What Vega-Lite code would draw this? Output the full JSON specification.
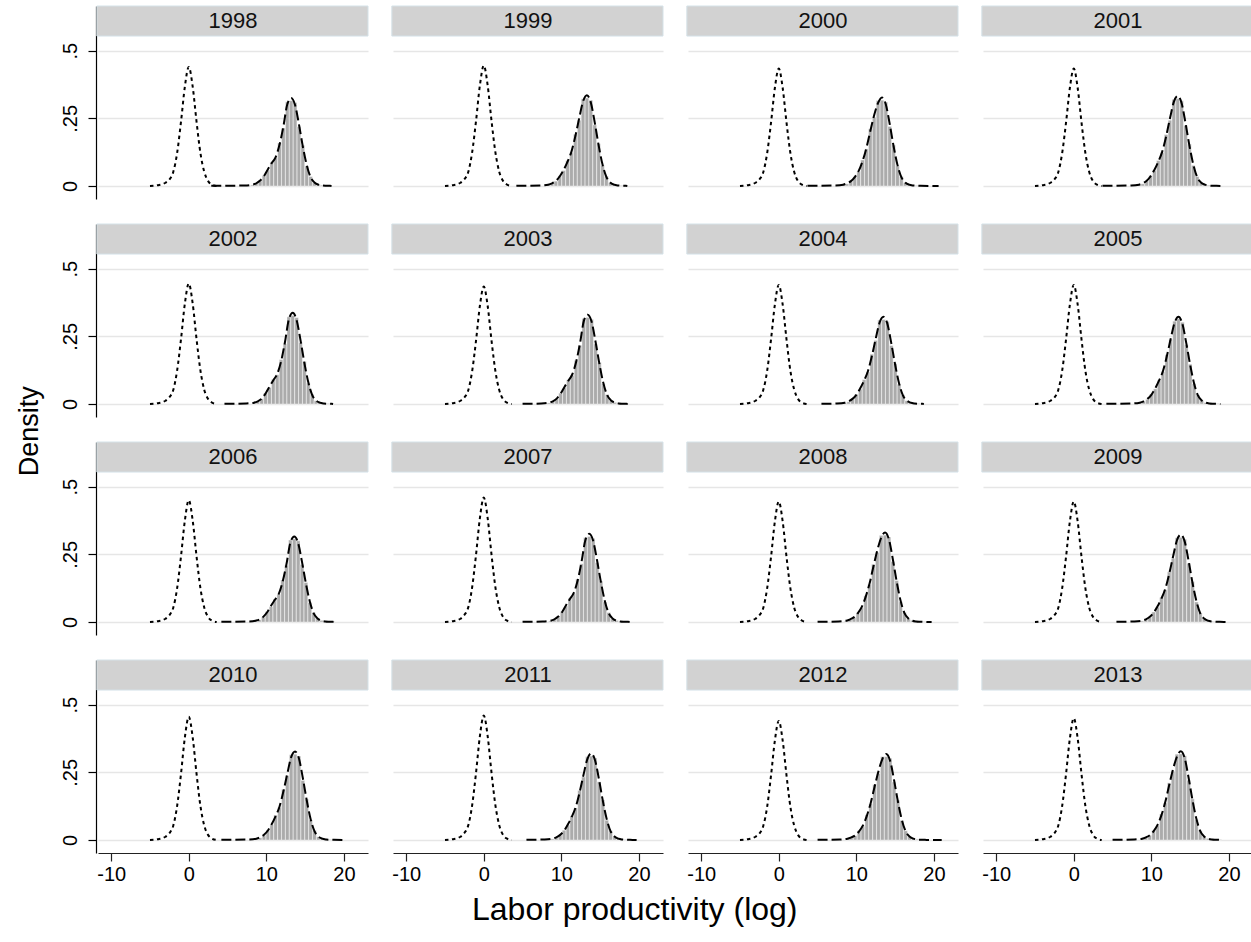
{
"$schema": "https://vega.github.io/schema/vega-lite/v6.json",
"padding": {"left": 16, "top": 4, "right": 0, "bottom": 5},
"background": "white",
"config": {"font": "Liberation Sans", "view": {"stroke": null}, "header": {"labelExpr": "''", "labelFontSize": 1, "labelPadding": 0, "labelLimit": 1, "title": null}},
"title": {"text": "Labor productivity (log)", "orient": "bottom", "anchor": "middle", "fontSize": 32, "fontWeight": "normal", "color": "black", "offset": 11},
"data": {"values": [
{"yr":1998,"x":2.9,"k":0.0005},{"yr":1998,"x":7.2,"k":0.002},{"yr":1998,"x":8.2,"k":0.005,"h":0.004},
{"yr":1998,"x":8.7,"k":0.010,"h":0.008},{"yr":1998,"x":9.2,"k":0.020,"h":0.019},{"yr":1998,"x":9.7,"k":0.037,"h":0.039},{"yr":1998,"x":10.2,"k":0.062,"h":0.059},{"yr":1998,"x":10.7,"k":0.085,"h":0.088},{"yr":1998,"x":11.2,"k":0.107,"h":0.104},{"yr":1998,"x":11.7,"k":0.153,"h":0.159},{"yr":1998,"x":12.2,"k":0.221,"h":0.214},{"yr":1998,"x":12.7,"k":0.302,"h":0.311},{"yr":1998,"x":13.2,"k":0.325,"h":0.315},{"yr":1998,"x":13.7,"k":0.299,"h":0.308},{"yr":1998,"x":14.2,"k":0.228,"h":0.219},{"yr":1998,"x":14.7,"k":0.146,"h":0.150},{"yr":1998,"x":15.2,"k":0.078,"h":0.074},{"yr":1998,"x":15.7,"k":0.033,"h":0.035},{"yr":1998,"x":16.2,"k":0.013,"h":0.012},{"yr":1998,"x":16.7,"k":0.005,"h":0.006},{"yr":1998,"x":17.2,"k":0.002,"h":0.003},{"yr":1998,"x":17.7,"k":0.001,"h":0.002},{"yr":1998,"x":18.2,"k":0.0005,"h":0.002},{"yr":1998,"x":18.4,"k":0},
{"yr":1999,"x":4.2,"k":0.0005},{"yr":1999,"x":7.3,"k":0.002},{"yr":1999,"x":8.3,"k":0.005,"h":0.004},
{"yr":1999,"x":8.8,"k":0.010,"h":0.008},{"yr":1999,"x":9.3,"k":0.019,"h":0.018},{"yr":1999,"x":9.8,"k":0.036,"h":0.038},{"yr":1999,"x":10.3,"k":0.060,"h":0.057},{"yr":1999,"x":10.8,"k":0.090,"h":0.094},{"yr":1999,"x":11.3,"k":0.127,"h":0.123},{"yr":1999,"x":11.8,"k":0.184,"h":0.191},{"yr":1999,"x":12.3,"k":0.251,"h":0.243},{"yr":1999,"x":12.8,"k":0.313,"h":0.322},{"yr":1999,"x":13.3,"k":0.335,"h":0.325},{"yr":1999,"x":13.8,"k":0.308,"h":0.317},{"yr":1999,"x":14.3,"k":0.235,"h":0.226},{"yr":1999,"x":14.8,"k":0.151,"h":0.156},{"yr":1999,"x":15.3,"k":0.080,"h":0.076},{"yr":1999,"x":15.8,"k":0.034,"h":0.036},{"yr":1999,"x":16.3,"k":0.013,"h":0.012},{"yr":1999,"x":16.8,"k":0.005,"h":0.006},{"yr":1999,"x":17.3,"k":0.002,"h":0.003},{"yr":1999,"x":17.8,"k":0.001,"h":0.002},{"yr":1999,"x":18.3,"k":0.0005,"h":0.002},{"yr":1999,"x":18.5,"k":0},
{"yr":2000,"x":3.7,"k":0.0005},{"yr":2000,"x":7.3,"k":0.002},{"yr":2000,"x":8.3,"k":0.005,"h":0.004},
{"yr":2000,"x":8.8,"k":0.010,"h":0.008},{"yr":2000,"x":9.3,"k":0.018,"h":0.017},{"yr":2000,"x":9.8,"k":0.033,"h":0.035},{"yr":2000,"x":10.3,"k":0.056,"h":0.053},{"yr":2000,"x":10.8,"k":0.092,"h":0.096},{"yr":2000,"x":11.3,"k":0.141,"h":0.137},{"yr":2000,"x":11.8,"k":0.203,"h":0.211},{"yr":2000,"x":12.3,"k":0.262,"h":0.254},{"yr":2000,"x":12.8,"k":0.307,"h":0.316},{"yr":2000,"x":13.3,"k":0.327,"h":0.317},{"yr":2000,"x":13.8,"k":0.301,"h":0.310},{"yr":2000,"x":14.3,"k":0.229,"h":0.220},{"yr":2000,"x":14.8,"k":0.147,"h":0.151},{"yr":2000,"x":15.3,"k":0.078,"h":0.074},{"yr":2000,"x":15.8,"k":0.033,"h":0.035},{"yr":2000,"x":16.3,"k":0.013,"h":0.012},{"yr":2000,"x":16.8,"k":0.005,"h":0.006},{"yr":2000,"x":17.3,"k":0.002,"h":0.003},{"yr":2000,"x":17.8,"k":0.001,"h":0.002},{"yr":2000,"x":18.3,"k":0.0005,"h":0.002},{"yr":2000,"x":20.6,"k":0},
{"yr":2001,"x":3.7,"k":0.0005},{"yr":2001,"x":7.4,"k":0.002},{"yr":2001,"x":8.4,"k":0.005,"h":0.004},
{"yr":2001,"x":8.9,"k":0.010,"h":0.008},{"yr":2001,"x":9.4,"k":0.019,"h":0.018},{"yr":2001,"x":9.9,"k":0.036,"h":0.038},{"yr":2001,"x":10.4,"k":0.060,"h":0.057},{"yr":2001,"x":10.9,"k":0.090,"h":0.094},{"yr":2001,"x":11.4,"k":0.127,"h":0.123},{"yr":2001,"x":11.9,"k":0.183,"h":0.190},{"yr":2001,"x":12.4,"k":0.250,"h":0.243},{"yr":2001,"x":12.9,"k":0.311,"h":0.320},{"yr":2001,"x":13.4,"k":0.333,"h":0.323},{"yr":2001,"x":13.9,"k":0.306,"h":0.315},{"yr":2001,"x":14.4,"k":0.233,"h":0.224},{"yr":2001,"x":14.9,"k":0.150,"h":0.155},{"yr":2001,"x":15.4,"k":0.080,"h":0.076},{"yr":2001,"x":15.9,"k":0.033,"h":0.035},{"yr":2001,"x":16.4,"k":0.013,"h":0.012},{"yr":2001,"x":16.9,"k":0.005,"h":0.006},{"yr":2001,"x":17.4,"k":0.002,"h":0.003},{"yr":2001,"x":17.9,"k":0.001,"h":0.002},{"yr":2001,"x":18.4,"k":0.0005,"h":0.002},{"yr":2001,"x":18.9,"k":0},
{"yr":2002,"x":4.6,"k":0.0005},{"yr":2002,"x":7.4,"k":0.002},{"yr":2002,"x":8.4,"k":0.005,"h":0.004},
{"yr":2002,"x":8.9,"k":0.010,"h":0.008},{"yr":2002,"x":9.4,"k":0.020,"h":0.019},{"yr":2002,"x":9.9,"k":0.039,"h":0.041},{"yr":2002,"x":10.4,"k":0.064,"h":0.061},{"yr":2002,"x":10.9,"k":0.088,"h":0.091},{"yr":2002,"x":11.4,"k":0.111,"h":0.108},{"yr":2002,"x":11.9,"k":0.158,"h":0.164},{"yr":2002,"x":12.4,"k":0.229,"h":0.222},{"yr":2002,"x":12.9,"k":0.313,"h":0.322},{"yr":2002,"x":13.4,"k":0.337,"h":0.327},{"yr":2002,"x":13.9,"k":0.310,"h":0.319},{"yr":2002,"x":14.4,"k":0.236,"h":0.227},{"yr":2002,"x":14.9,"k":0.152,"h":0.157},{"yr":2002,"x":15.4,"k":0.081,"h":0.077},{"yr":2002,"x":15.9,"k":0.034,"h":0.036},{"yr":2002,"x":16.4,"k":0.013,"h":0.012},{"yr":2002,"x":16.9,"k":0.005,"h":0.006},{"yr":2002,"x":17.4,"k":0.002,"h":0.003},{"yr":2002,"x":17.9,"k":0.001,"h":0.002},{"yr":2002,"x":18.4,"k":0.0005,"h":0.002},{"yr":2002,"x":18.6,"k":0},
{"yr":2003,"x":5.0,"k":0.0005},{"yr":2003,"x":7.4,"k":0.002},{"yr":2003,"x":8.4,"k":0.005,"h":0.004},
{"yr":2003,"x":8.9,"k":0.010,"h":0.008},{"yr":2003,"x":9.4,"k":0.020,"h":0.019},{"yr":2003,"x":9.9,"k":0.038,"h":0.040},{"yr":2003,"x":10.4,"k":0.063,"h":0.060},{"yr":2003,"x":10.9,"k":0.086,"h":0.089},{"yr":2003,"x":11.4,"k":0.109,"h":0.106},{"yr":2003,"x":11.9,"k":0.155,"h":0.161},{"yr":2003,"x":12.4,"k":0.224,"h":0.217},{"yr":2003,"x":12.9,"k":0.307,"h":0.316},{"yr":2003,"x":13.4,"k":0.330,"h":0.320},{"yr":2003,"x":13.9,"k":0.304,"h":0.313},{"yr":2003,"x":14.4,"k":0.231,"h":0.222},{"yr":2003,"x":14.9,"k":0.149,"h":0.153},{"yr":2003,"x":15.4,"k":0.079,"h":0.075},{"yr":2003,"x":15.9,"k":0.033,"h":0.035},{"yr":2003,"x":16.4,"k":0.013,"h":0.012},{"yr":2003,"x":16.9,"k":0.005,"h":0.006},{"yr":2003,"x":17.4,"k":0.002,"h":0.003},{"yr":2003,"x":17.9,"k":0.001,"h":0.002},{"yr":2003,"x":18.4,"k":0.0005,"h":0.002},{"yr":2003,"x":18.9,"k":0},
{"yr":2004,"x":5.5,"k":0.0005},{"yr":2004,"x":7.5,"k":0.002},{"yr":2004,"x":8.5,"k":0.005,"h":0.004},
{"yr":2004,"x":9.0,"k":0.010,"h":0.008},{"yr":2004,"x":9.5,"k":0.019,"h":0.018},{"yr":2004,"x":10.0,"k":0.034,"h":0.036},{"yr":2004,"x":10.5,"k":0.058,"h":0.055},{"yr":2004,"x":11.0,"k":0.087,"h":0.090},{"yr":2004,"x":11.5,"k":0.122,"h":0.118},{"yr":2004,"x":12.0,"k":0.177,"h":0.184},{"yr":2004,"x":12.5,"k":0.242,"h":0.235},{"yr":2004,"x":13.0,"k":0.301,"h":0.310},{"yr":2004,"x":13.5,"k":0.322,"h":0.312},{"yr":2004,"x":14.0,"k":0.296,"h":0.305},{"yr":2004,"x":14.5,"k":0.225,"h":0.216},{"yr":2004,"x":15.0,"k":0.145,"h":0.149},{"yr":2004,"x":15.5,"k":0.077,"h":0.073},{"yr":2004,"x":16.0,"k":0.032,"h":0.034},{"yr":2004,"x":16.5,"k":0.013,"h":0.012},{"yr":2004,"x":17.0,"k":0.005,"h":0.006},{"yr":2004,"x":17.5,"k":0.002,"h":0.003},{"yr":2004,"x":18.0,"k":0.001,"h":0.002},{"yr":2004,"x":18.5,"k":0.0005,"h":0.002},{"yr":2004,"x":18.7,"k":0},
{"yr":2005,"x":4.2,"k":0.0005},{"yr":2005,"x":7.5,"k":0.002},{"yr":2005,"x":8.5,"k":0.005,"h":0.004},
{"yr":2005,"x":9.0,"k":0.010,"h":0.009},{"yr":2005,"x":9.5,"k":0.019,"h":0.017},{"yr":2005,"x":10.0,"k":0.034,"h":0.037},{"yr":2005,"x":10.5,"k":0.058,"h":0.056},{"yr":2005,"x":11.0,"k":0.087,"h":0.088},{"yr":2005,"x":11.5,"k":0.122,"h":0.120},{"yr":2005,"x":12.0,"k":0.177,"h":0.182},{"yr":2005,"x":12.5,"k":0.242,"h":0.238},{"yr":2005,"x":13.0,"k":0.301,"h":0.306},{"yr":2005,"x":13.5,"k":0.322,"h":0.315},{"yr":2005,"x":14.0,"k":0.296,"h":0.302},{"yr":2005,"x":14.5,"k":0.225,"h":0.219},{"yr":2005,"x":15.0,"k":0.145,"h":0.147},{"yr":2005,"x":15.5,"k":0.077,"h":0.075},{"yr":2005,"x":16.0,"k":0.032,"h":0.033},{"yr":2005,"x":16.5,"k":0.013,"h":0.013},{"yr":2005,"x":17.0,"k":0.005,"h":0.005},{"yr":2005,"x":17.5,"k":0.002,"h":0.003},{"yr":2005,"x":18.0,"k":0.001,"h":0.002},{"yr":2005,"x":18.5,"k":0.0005,"h":0.002},{"yr":2005,"x":18.9,"k":0},
{"yr":2006,"x":4.2,"k":0.0005},{"yr":2006,"x":7.6,"k":0.002},{"yr":2006,"x":8.6,"k":0.005,"h":0.004},
{"yr":2006,"x":9.1,"k":0.009,"h":0.008},{"yr":2006,"x":9.6,"k":0.019,"h":0.018},{"yr":2006,"x":10.1,"k":0.036,"h":0.038},{"yr":2006,"x":10.6,"k":0.060,"h":0.057},{"yr":2006,"x":11.1,"k":0.082,"h":0.085},{"yr":2006,"x":11.6,"k":0.104,"h":0.101},{"yr":2006,"x":12.1,"k":0.149,"h":0.155},{"yr":2006,"x":12.6,"k":0.215,"h":0.209},{"yr":2006,"x":13.1,"k":0.294,"h":0.303},{"yr":2006,"x":13.6,"k":0.316,"h":0.307},{"yr":2006,"x":14.1,"k":0.291,"h":0.300},{"yr":2006,"x":14.6,"k":0.221,"h":0.212},{"yr":2006,"x":15.1,"k":0.142,"h":0.146},{"yr":2006,"x":15.6,"k":0.076,"h":0.072},{"yr":2006,"x":16.1,"k":0.032,"h":0.034},{"yr":2006,"x":16.6,"k":0.013,"h":0.012},{"yr":2006,"x":17.1,"k":0.005,"h":0.006},{"yr":2006,"x":17.6,"k":0.002,"h":0.003},{"yr":2006,"x":18.1,"k":0.001,"h":0.002},{"yr":2006,"x":18.6,"k":0.0005,"h":0.002},{"yr":2006,"x":18.8,"k":0},
{"yr":2007,"x":5.0,"k":0.0005},{"yr":2007,"x":7.6,"k":0.002},{"yr":2007,"x":8.6,"k":0.005,"h":0.004},
{"yr":2007,"x":9.1,"k":0.010,"h":0.008},{"yr":2007,"x":9.6,"k":0.020,"h":0.019},{"yr":2007,"x":10.1,"k":0.037,"h":0.039},{"yr":2007,"x":10.6,"k":0.062,"h":0.059},{"yr":2007,"x":11.1,"k":0.085,"h":0.088},{"yr":2007,"x":11.6,"k":0.108,"h":0.105},{"yr":2007,"x":12.1,"k":0.153,"h":0.159},{"yr":2007,"x":12.6,"k":0.222,"h":0.215},{"yr":2007,"x":13.1,"k":0.303,"h":0.312},{"yr":2007,"x":13.6,"k":0.326,"h":0.316},{"yr":2007,"x":14.1,"k":0.300,"h":0.309},{"yr":2007,"x":14.6,"k":0.228,"h":0.219},{"yr":2007,"x":15.1,"k":0.147,"h":0.151},{"yr":2007,"x":15.6,"k":0.078,"h":0.074},{"yr":2007,"x":16.1,"k":0.033,"h":0.035},{"yr":2007,"x":16.6,"k":0.013,"h":0.012},{"yr":2007,"x":17.1,"k":0.005,"h":0.006},{"yr":2007,"x":17.6,"k":0.002,"h":0.003},{"yr":2007,"x":18.1,"k":0.001,"h":0.002},{"yr":2007,"x":18.6,"k":0.0005,"h":0.002},{"yr":2007,"x":18.8,"k":0},
{"yr":2008,"x":5.0,"k":0.0005},{"yr":2008,"x":7.7,"k":0.002},{"yr":2008,"x":8.7,"k":0.005,"h":0.004},
{"yr":2008,"x":9.2,"k":0.010,"h":0.008},{"yr":2008,"x":9.7,"k":0.018,"h":0.017},{"yr":2008,"x":10.2,"k":0.033,"h":0.035},{"yr":2008,"x":10.7,"k":0.056,"h":0.053},{"yr":2008,"x":11.2,"k":0.093,"h":0.097},{"yr":2008,"x":11.7,"k":0.142,"h":0.138},{"yr":2008,"x":12.2,"k":0.205,"h":0.213},{"yr":2008,"x":12.7,"k":0.265,"h":0.257},{"yr":2008,"x":13.2,"k":0.311,"h":0.320},{"yr":2008,"x":13.7,"k":0.331,"h":0.321},{"yr":2008,"x":14.2,"k":0.305,"h":0.314},{"yr":2008,"x":14.7,"k":0.232,"h":0.223},{"yr":2008,"x":15.2,"k":0.149,"h":0.153},{"yr":2008,"x":15.7,"k":0.079,"h":0.075},{"yr":2008,"x":16.2,"k":0.033,"h":0.035},{"yr":2008,"x":16.7,"k":0.013,"h":0.012},{"yr":2008,"x":17.2,"k":0.005,"h":0.006},{"yr":2008,"x":17.7,"k":0.002,"h":0.003},{"yr":2008,"x":18.2,"k":0.001,"h":0.002},{"yr":2008,"x":18.7,"k":0.0005,"h":0.002},{"yr":2008,"x":19.7,"k":0},
{"yr":2009,"x":5.5,"k":0.0005},{"yr":2009,"x":7.8,"k":0.002},{"yr":2009,"x":8.8,"k":0.005,"h":0.004},
{"yr":2009,"x":9.3,"k":0.010,"h":0.008},{"yr":2009,"x":9.8,"k":0.019,"h":0.018},{"yr":2009,"x":10.3,"k":0.035,"h":0.037},{"yr":2009,"x":10.8,"k":0.058,"h":0.055},{"yr":2009,"x":11.3,"k":0.087,"h":0.090},{"yr":2009,"x":11.8,"k":0.123,"h":0.119},{"yr":2009,"x":12.3,"k":0.178,"h":0.185},{"yr":2009,"x":12.8,"k":0.242,"h":0.235},{"yr":2009,"x":13.3,"k":0.302,"h":0.311},{"yr":2009,"x":13.8,"k":0.323,"h":0.313},{"yr":2009,"x":14.3,"k":0.297,"h":0.306},{"yr":2009,"x":14.8,"k":0.226,"h":0.217},{"yr":2009,"x":15.3,"k":0.145,"h":0.149},{"yr":2009,"x":15.8,"k":0.078,"h":0.074},{"yr":2009,"x":16.3,"k":0.032,"h":0.034},{"yr":2009,"x":16.8,"k":0.013,"h":0.012},{"yr":2009,"x":17.3,"k":0.005,"h":0.006},{"yr":2009,"x":17.8,"k":0.002,"h":0.003},{"yr":2009,"x":18.3,"k":0.001,"h":0.002},{"yr":2009,"x":18.8,"k":0.0005,"h":0.002},{"yr":2009,"x":19.7,"k":0},
{"yr":2010,"x":4.2,"k":0.0005},{"yr":2010,"x":7.7,"k":0.002},{"yr":2010,"x":8.7,"k":0.005,"h":0.004},
{"yr":2010,"x":9.2,"k":0.010,"h":0.008},{"yr":2010,"x":9.7,"k":0.019,"h":0.018},{"yr":2010,"x":10.2,"k":0.035,"h":0.037},{"yr":2010,"x":10.7,"k":0.059,"h":0.056},{"yr":2010,"x":11.2,"k":0.088,"h":0.092},{"yr":2010,"x":11.7,"k":0.124,"h":0.120},{"yr":2010,"x":12.2,"k":0.180,"h":0.187},{"yr":2010,"x":12.7,"k":0.245,"h":0.238},{"yr":2010,"x":13.2,"k":0.306,"h":0.315},{"yr":2010,"x":13.7,"k":0.327,"h":0.317},{"yr":2010,"x":14.2,"k":0.301,"h":0.310},{"yr":2010,"x":14.7,"k":0.229,"h":0.220},{"yr":2010,"x":15.2,"k":0.147,"h":0.151},{"yr":2010,"x":15.7,"k":0.078,"h":0.074},{"yr":2010,"x":16.2,"k":0.033,"h":0.035},{"yr":2010,"x":16.7,"k":0.013,"h":0.012},{"yr":2010,"x":17.2,"k":0.005,"h":0.006},{"yr":2010,"x":17.7,"k":0.002,"h":0.003},{"yr":2010,"x":18.2,"k":0.001,"h":0.002},{"yr":2010,"x":18.7,"k":0.0005,"h":0.002},{"yr":2010,"x":20.2,"k":0},
{"yr":2011,"x":5.5,"k":0.0005},{"yr":2011,"x":7.85,"k":0.002},{"yr":2011,"x":8.85,"k":0.005,"h":0.004},
{"yr":2011,"x":9.35,"k":0.010,"h":0.008},{"yr":2011,"x":9.85,"k":0.019,"h":0.018},{"yr":2011,"x":10.35,"k":0.034,"h":0.036},{"yr":2011,"x":10.85,"k":0.058,"h":0.055},{"yr":2011,"x":11.35,"k":0.086,"h":0.089},{"yr":2011,"x":11.85,"k":0.122,"h":0.118},{"yr":2011,"x":12.35,"k":0.176,"h":0.183},{"yr":2011,"x":12.85,"k":0.240,"h":0.233},{"yr":2011,"x":13.35,"k":0.299,"h":0.308},{"yr":2011,"x":13.85,"k":0.320,"h":0.310},{"yr":2011,"x":14.35,"k":0.294,"h":0.303},{"yr":2011,"x":14.85,"k":0.224,"h":0.215},{"yr":2011,"x":15.35,"k":0.144,"h":0.148},{"yr":2011,"x":15.85,"k":0.077,"h":0.073},{"yr":2011,"x":16.35,"k":0.032,"h":0.034},{"yr":2011,"x":16.85,"k":0.013,"h":0.012},{"yr":2011,"x":17.35,"k":0.005,"h":0.006},{"yr":2011,"x":17.85,"k":0.002,"h":0.003},{"yr":2011,"x":18.35,"k":0.001,"h":0.002},{"yr":2011,"x":18.85,"k":0.0005,"h":0.002},{"yr":2011,"x":19.7,"k":0},
{"yr":2012,"x":5.0,"k":0.0005},{"yr":2012,"x":7.85,"k":0.002},{"yr":2012,"x":8.85,"k":0.005,"h":0.004},
{"yr":2012,"x":9.35,"k":0.010,"h":0.008},{"yr":2012,"x":9.85,"k":0.017,"h":0.016},{"yr":2012,"x":10.35,"k":0.032,"h":0.034},{"yr":2012,"x":10.85,"k":0.054,"h":0.051},{"yr":2012,"x":11.35,"k":0.089,"h":0.093},{"yr":2012,"x":11.85,"k":0.137,"h":0.133},{"yr":2012,"x":12.35,"k":0.197,"h":0.205},{"yr":2012,"x":12.85,"k":0.254,"h":0.246},{"yr":2012,"x":13.35,"k":0.299,"h":0.308},{"yr":2012,"x":13.85,"k":0.318,"h":0.308},{"yr":2012,"x":14.35,"k":0.293,"h":0.302},{"yr":2012,"x":14.85,"k":0.223,"h":0.214},{"yr":2012,"x":15.35,"k":0.143,"h":0.147},{"yr":2012,"x":15.85,"k":0.076,"h":0.072},{"yr":2012,"x":16.35,"k":0.032,"h":0.034},{"yr":2012,"x":16.85,"k":0.013,"h":0.012},{"yr":2012,"x":17.35,"k":0.005,"h":0.006},{"yr":2012,"x":17.85,"k":0.002,"h":0.003},{"yr":2012,"x":18.35,"k":0.001,"h":0.002},{"yr":2012,"x":18.85,"k":0.0005,"h":0.002},{"yr":2012,"x":21.0,"k":0},
{"yr":2013,"x":5.0,"k":0.0005},{"yr":2013,"x":7.8,"k":0.002},{"yr":2013,"x":8.8,"k":0.005,"h":0.004},
{"yr":2013,"x":9.3,"k":0.010,"h":0.008},{"yr":2013,"x":9.8,"k":0.018,"h":0.017},{"yr":2013,"x":10.3,"k":0.033,"h":0.035},{"yr":2013,"x":10.8,"k":0.056,"h":0.053},{"yr":2013,"x":11.3,"k":0.092,"h":0.096},{"yr":2013,"x":11.8,"k":0.141,"h":0.137},{"yr":2013,"x":12.3,"k":0.203,"h":0.211},{"yr":2013,"x":12.8,"k":0.262,"h":0.254},{"yr":2013,"x":13.3,"k":0.308,"h":0.317},{"yr":2013,"x":13.8,"k":0.328,"h":0.318},{"yr":2013,"x":14.3,"k":0.302,"h":0.311},{"yr":2013,"x":14.8,"k":0.230,"h":0.221},{"yr":2013,"x":15.3,"k":0.148,"h":0.152},{"yr":2013,"x":15.8,"k":0.079,"h":0.075},{"yr":2013,"x":16.3,"k":0.033,"h":0.035},{"yr":2013,"x":16.8,"k":0.013,"h":0.012},{"yr":2013,"x":17.3,"k":0.005,"h":0.006},{"yr":2013,"x":17.8,"k":0.002,"h":0.003},{"yr":2013,"x":18.3,"k":0.001,"h":0.002},{"yr":2013,"x":18.8,"k":0.0005,"h":0.002},{"yr":2013,"x":19.0,"k":0},
{"yr":1998,"x":-5,"d":0},{"yr":1998,"x":-4,"d":0.003},{"yr":1998,"x":-3,"d":0.012},{"yr":1998,"x":-2.5,"d":0.024},{"yr":1998,"x":-2,"d":0.052},{"yr":1998,"x":-1.5,"d":0.122},{"yr":1998,"x":-1,"d":0.238},{"yr":1998,"x":-0.5,"d":0.368},{"yr":1998,"x":0,"d":0.44},{"yr":1998,"x":0.5,"d":0.368},{"yr":1998,"x":1,"d":0.238},{"yr":1998,"x":1.5,"d":0.122},{"yr":1998,"x":2,"d":0.052},{"yr":1998,"x":2.5,"d":0.018},{"yr":1998,"x":3,"d":0.005},{"yr":1998,"x":3.6,"d":0},
{"yr":1999,"x":-5,"d":0},{"yr":1999,"x":-4,"d":0.003},{"yr":1999,"x":-3,"d":0.012},{"yr":1999,"x":-2.5,"d":0.025},{"yr":1999,"x":-2,"d":0.052},{"yr":1999,"x":-1.5,"d":0.124},{"yr":1999,"x":-1,"d":0.24},{"yr":1999,"x":-0.5,"d":0.372},{"yr":1999,"x":0,"d":0.445},{"yr":1999,"x":0.5,"d":0.372},{"yr":1999,"x":1,"d":0.24},{"yr":1999,"x":1.5,"d":0.124},{"yr":1999,"x":2,"d":0.052},{"yr":1999,"x":2.5,"d":0.018},{"yr":1999,"x":3,"d":0.005},{"yr":1999,"x":3.6,"d":0},
{"yr":2000,"x":-5,"d":0},{"yr":2000,"x":-4,"d":0.003},{"yr":2000,"x":-3,"d":0.012},{"yr":2000,"x":-2.5,"d":0.024},{"yr":2000,"x":-2,"d":0.051},{"yr":2000,"x":-1.5,"d":0.121},{"yr":2000,"x":-1,"d":0.234},{"yr":2000,"x":-0.5,"d":0.363},{"yr":2000,"x":0,"d":0.434},{"yr":2000,"x":0.5,"d":0.363},{"yr":2000,"x":1,"d":0.234},{"yr":2000,"x":1.5,"d":0.121},{"yr":2000,"x":2,"d":0.051},{"yr":2000,"x":2.5,"d":0.017},{"yr":2000,"x":3,"d":0.005},{"yr":2000,"x":3.6,"d":0},
{"yr":2001,"x":-5,"d":0},{"yr":2001,"x":-4,"d":0.003},{"yr":2001,"x":-3,"d":0.012},{"yr":2001,"x":-2.5,"d":0.024},{"yr":2001,"x":-2,"d":0.051},{"yr":2001,"x":-1.5,"d":0.121},{"yr":2001,"x":-1,"d":0.234},{"yr":2001,"x":-0.5,"d":0.363},{"yr":2001,"x":0,"d":0.434},{"yr":2001,"x":0.5,"d":0.363},{"yr":2001,"x":1,"d":0.234},{"yr":2001,"x":1.5,"d":0.121},{"yr":2001,"x":2,"d":0.051},{"yr":2001,"x":2.5,"d":0.017},{"yr":2001,"x":3,"d":0.005},{"yr":2001,"x":3.6,"d":0},
{"yr":2002,"x":-5,"d":0},{"yr":2002,"x":-4,"d":0.003},{"yr":2002,"x":-3,"d":0.012},{"yr":2002,"x":-2.5,"d":0.025},{"yr":2002,"x":-2,"d":0.052},{"yr":2002,"x":-1.5,"d":0.124},{"yr":2002,"x":-1,"d":0.24},{"yr":2002,"x":-0.5,"d":0.372},{"yr":2002,"x":0,"d":0.445},{"yr":2002,"x":0.5,"d":0.372},{"yr":2002,"x":1,"d":0.24},{"yr":2002,"x":1.5,"d":0.124},{"yr":2002,"x":2,"d":0.052},{"yr":2002,"x":2.5,"d":0.018},{"yr":2002,"x":3,"d":0.005},{"yr":2002,"x":3.6,"d":0},
{"yr":2003,"x":-5,"d":0},{"yr":2003,"x":-4,"d":0.003},{"yr":2003,"x":-3,"d":0.012},{"yr":2003,"x":-2.5,"d":0.024},{"yr":2003,"x":-2,"d":0.051},{"yr":2003,"x":-1.5,"d":0.121},{"yr":2003,"x":-1,"d":0.234},{"yr":2003,"x":-0.5,"d":0.363},{"yr":2003,"x":0,"d":0.434},{"yr":2003,"x":0.5,"d":0.363},{"yr":2003,"x":1,"d":0.234},{"yr":2003,"x":1.5,"d":0.121},{"yr":2003,"x":2,"d":0.051},{"yr":2003,"x":2.5,"d":0.017},{"yr":2003,"x":3,"d":0.005},{"yr":2003,"x":3.6,"d":0},
{"yr":2004,"x":-5,"d":0},{"yr":2004,"x":-4,"d":0.003},{"yr":2004,"x":-3,"d":0.012},{"yr":2004,"x":-2.5,"d":0.024},{"yr":2004,"x":-2,"d":0.052},{"yr":2004,"x":-1.5,"d":0.122},{"yr":2004,"x":-1,"d":0.238},{"yr":2004,"x":-0.5,"d":0.368},{"yr":2004,"x":0,"d":0.44},{"yr":2004,"x":0.5,"d":0.368},{"yr":2004,"x":1,"d":0.238},{"yr":2004,"x":1.5,"d":0.122},{"yr":2004,"x":2,"d":0.052},{"yr":2004,"x":2.5,"d":0.018},{"yr":2004,"x":3,"d":0.005},{"yr":2004,"x":3.6,"d":0},
{"yr":2005,"x":-5,"d":0},{"yr":2005,"x":-4,"d":0.003},{"yr":2005,"x":-3,"d":0.012},{"yr":2005,"x":-2.5,"d":0.024},{"yr":2005,"x":-2,"d":0.052},{"yr":2005,"x":-1.5,"d":0.122},{"yr":2005,"x":-1,"d":0.238},{"yr":2005,"x":-0.5,"d":0.368},{"yr":2005,"x":0,"d":0.44},{"yr":2005,"x":0.5,"d":0.368},{"yr":2005,"x":1,"d":0.238},{"yr":2005,"x":1.5,"d":0.122},{"yr":2005,"x":2,"d":0.052},{"yr":2005,"x":2.5,"d":0.018},{"yr":2005,"x":3,"d":0.005},{"yr":2005,"x":3.6,"d":0},
{"yr":2006,"x":-5,"d":0},{"yr":2006,"x":-4,"d":0.003},{"yr":2006,"x":-3,"d":0.012},{"yr":2006,"x":-2.5,"d":0.025},{"yr":2006,"x":-2,"d":0.053},{"yr":2006,"x":-1.5,"d":0.125},{"yr":2006,"x":-1,"d":0.243},{"yr":2006,"x":-0.5,"d":0.376},{"yr":2006,"x":0,"d":0.45},{"yr":2006,"x":0.5,"d":0.376},{"yr":2006,"x":1,"d":0.243},{"yr":2006,"x":1.5,"d":0.125},{"yr":2006,"x":2,"d":0.053},{"yr":2006,"x":2.5,"d":0.018},{"yr":2006,"x":3,"d":0.005},{"yr":2006,"x":3.6,"d":0},
{"yr":2007,"x":-5,"d":0},{"yr":2007,"x":-4,"d":0.003},{"yr":2007,"x":-3,"d":0.012},{"yr":2007,"x":-2.5,"d":0.026},{"yr":2007,"x":-2,"d":0.054},{"yr":2007,"x":-1.5,"d":0.128},{"yr":2007,"x":-1,"d":0.248},{"yr":2007,"x":-0.5,"d":0.384},{"yr":2007,"x":0,"d":0.46},{"yr":2007,"x":0.5,"d":0.384},{"yr":2007,"x":1,"d":0.248},{"yr":2007,"x":1.5,"d":0.128},{"yr":2007,"x":2,"d":0.054},{"yr":2007,"x":2.5,"d":0.018},{"yr":2007,"x":3,"d":0.005},{"yr":2007,"x":3.6,"d":0},
{"yr":2008,"x":-5,"d":0},{"yr":2008,"x":-4,"d":0.003},{"yr":2008,"x":-3,"d":0.012},{"yr":2008,"x":-2.5,"d":0.025},{"yr":2008,"x":-2,"d":0.052},{"yr":2008,"x":-1.5,"d":0.124},{"yr":2008,"x":-1,"d":0.24},{"yr":2008,"x":-0.5,"d":0.372},{"yr":2008,"x":0,"d":0.445},{"yr":2008,"x":0.5,"d":0.372},{"yr":2008,"x":1,"d":0.24},{"yr":2008,"x":1.5,"d":0.124},{"yr":2008,"x":2,"d":0.052},{"yr":2008,"x":2.5,"d":0.018},{"yr":2008,"x":3,"d":0.005},{"yr":2008,"x":3.6,"d":0},
{"yr":2009,"x":-5,"d":0},{"yr":2009,"x":-4,"d":0.003},{"yr":2009,"x":-3,"d":0.012},{"yr":2009,"x":-2.5,"d":0.025},{"yr":2009,"x":-2,"d":0.052},{"yr":2009,"x":-1.5,"d":0.124},{"yr":2009,"x":-1,"d":0.24},{"yr":2009,"x":-0.5,"d":0.372},{"yr":2009,"x":0,"d":0.445},{"yr":2009,"x":0.5,"d":0.372},{"yr":2009,"x":1,"d":0.24},{"yr":2009,"x":1.5,"d":0.124},{"yr":2009,"x":2,"d":0.052},{"yr":2009,"x":2.5,"d":0.018},{"yr":2009,"x":3,"d":0.005},{"yr":2009,"x":3.6,"d":0},
{"yr":2010,"x":-5,"d":0},{"yr":2010,"x":-4,"d":0.003},{"yr":2010,"x":-3,"d":0.012},{"yr":2010,"x":-2.5,"d":0.025},{"yr":2010,"x":-2,"d":0.053},{"yr":2010,"x":-1.5,"d":0.126},{"yr":2010,"x":-1,"d":0.245},{"yr":2010,"x":-0.5,"d":0.38},{"yr":2010,"x":0,"d":0.455},{"yr":2010,"x":0.5,"d":0.38},{"yr":2010,"x":1,"d":0.245},{"yr":2010,"x":1.5,"d":0.126},{"yr":2010,"x":2,"d":0.053},{"yr":2010,"x":2.5,"d":0.018},{"yr":2010,"x":3,"d":0.005},{"yr":2010,"x":3.6,"d":0},
{"yr":2011,"x":-5,"d":0},{"yr":2011,"x":-4,"d":0.003},{"yr":2011,"x":-3,"d":0.012},{"yr":2011,"x":-2.5,"d":0.026},{"yr":2011,"x":-2,"d":0.054},{"yr":2011,"x":-1.5,"d":0.128},{"yr":2011,"x":-1,"d":0.248},{"yr":2011,"x":-0.5,"d":0.384},{"yr":2011,"x":0,"d":0.46},{"yr":2011,"x":0.5,"d":0.384},{"yr":2011,"x":1,"d":0.248},{"yr":2011,"x":1.5,"d":0.128},{"yr":2011,"x":2,"d":0.054},{"yr":2011,"x":2.5,"d":0.018},{"yr":2011,"x":3,"d":0.005},{"yr":2011,"x":3.6,"d":0},
{"yr":2012,"x":-5,"d":0},{"yr":2012,"x":-4,"d":0.003},{"yr":2012,"x":-3,"d":0.012},{"yr":2012,"x":-2.5,"d":0.024},{"yr":2012,"x":-2,"d":0.052},{"yr":2012,"x":-1.5,"d":0.122},{"yr":2012,"x":-1,"d":0.238},{"yr":2012,"x":-0.5,"d":0.368},{"yr":2012,"x":0,"d":0.44},{"yr":2012,"x":0.5,"d":0.368},{"yr":2012,"x":1,"d":0.238},{"yr":2012,"x":1.5,"d":0.122},{"yr":2012,"x":2,"d":0.052},{"yr":2012,"x":2.5,"d":0.018},{"yr":2012,"x":3,"d":0.005},{"yr":2012,"x":3.6,"d":0},
{"yr":2013,"x":-5,"d":0},{"yr":2013,"x":-4,"d":0.003},{"yr":2013,"x":-3,"d":0.012},{"yr":2013,"x":-2.5,"d":0.025},{"yr":2013,"x":-2,"d":0.053},{"yr":2013,"x":-1.5,"d":0.125},{"yr":2013,"x":-1,"d":0.243},{"yr":2013,"x":-0.5,"d":0.376},{"yr":2013,"x":0,"d":0.45},{"yr":2013,"x":0.5,"d":0.376},{"yr":2013,"x":1,"d":0.243},{"yr":2013,"x":1.5,"d":0.125},{"yr":2013,"x":2,"d":0.053},{"yr":2013,"x":2.5,"d":0.018},{"yr":2013,"x":3,"d":0.005},{"yr":2013,"x":3.6,"d":0}
]},
"vconcat": [{
"title": {"text": "Density", "orient": "left", "anchor": "middle", "fontSize": 27, "fontWeight": "normal", "color": "black", "offset": 16, "dx": 13},
"facet": {"field": "yr", "type": "ordinal", "title": null, "header": {"labelExpr": "''", "labelFontSize": 1, "labelPadding": 0, "labelLimit": 1, "title": null}},
"columns": 4,
"spacing": {"row": 23, "column": 22},
"spec": {
  "width": 270,
  "height": 193,
  "layer": [
    {"transform": [{"filter": "isValid(datum.h)"}],
     "mark": {"type": "bar", "width": 3.7, "fill": "#ababab", "stroke": "white", "strokeWidth": 0.4},
     "encoding": {
       "x": {"field": "x", "type": "quantitative", "scale": {"domain": [-11.7, 23.1], "nice": false, "zero": false, "padding": 0},
         "axis": {"values": [-10, 0, 10, 20], "title": null, "grid": false, "labelExpr": "'' + datum.value", "labelFontSize": 20, "labelColor": "black", "tickSize": 8, "tickColor": "#222", "domainColor": "#222", "tickWidth": 1.2, "domainWidth": 1.2, "labelPadding": 3, "labelFlush": false}},
       "y": {"field": "h", "type": "quantitative", "scale": {"domain": [-0.048, 0.665], "nice": false, "zero": false, "padding": 0},
       "axis": {"values": [0, 0.25, 0.5], "title": null, "grid": true, "gridColor": "#e6e6e6", "gridWidth": 1.5, "labelAngle": -90, "labelAlign": "center", "labelBaseline": "bottom", "labelExpr": "datum.value == 0 ? '0' : (datum.value == 0.25 ? '.25' : '.5')", "labelFontSize": 20, "labelColor": "black", "labelPadding": 8, "tickSize": 8, "tickColor": "black", "domainColor": "black", "tickWidth": 1.2, "domainWidth": 1.2}}}},
    {"transform": [{"filter": "isValid(datum.d)"}],
     "mark": {"type": "line", "color": "black", "strokeWidth": 2, "strokeDash": [3.5, 3.5], "interpolate": "monotone"},
     "encoding": {"x": {"field": "x", "type": "quantitative", "title": null}, "y": {"field": "d", "type": "quantitative", "title": null}}},
    {"transform": [{"filter": "isValid(datum.k)"}],
     "mark": {"type": "line", "color": "black", "strokeWidth": 2, "strokeDash": [10, 4], "interpolate": "monotone"},
     "encoding": {"x": {"field": "x", "type": "quantitative", "title": null}, "y": {"field": "k", "type": "quantitative", "title": null}}},
    {"transform": [{"aggregate": [{"op": "count", "as": "n"}], "groupby": ["yr"]}],
     "mark": {"type": "rect", "fill": "#d2d2d2", "stroke": "#d5e2e8", "strokeWidth": 1},
     "encoding": {"x": {"datum": -11.85, "type": "quantitative"}, "x2": {"datum": 23.1}, "y": {"datum": 0.554, "type": "quantitative"}, "y2": {"datum": 0.665}}},
    {"transform": [{"aggregate": [{"op": "count", "as": "n"}], "groupby": ["yr"]}],
     "mark": {"type": "text", "fontSize": 22, "fill": "#111", "align": "center", "baseline": "middle"},
     "encoding": {"x": {"datum": 5.7, "type": "quantitative"}, "y": {"datum": 0.6095, "type": "quantitative"}, "text": {"field": "yr", "type": "nominal"}}}
  ]
}
}]
}
